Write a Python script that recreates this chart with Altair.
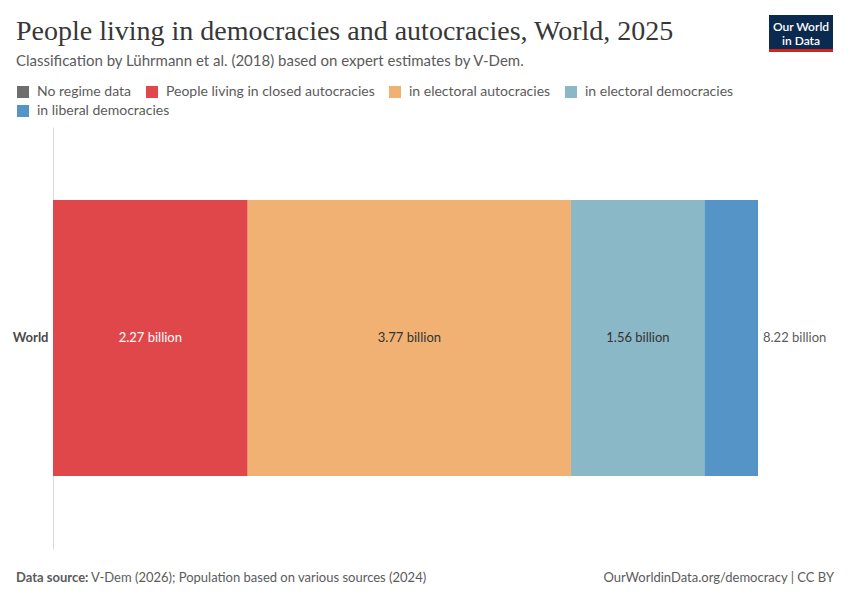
import altair as alt
import pandas as pd

# Population by political regime, World, 2025 (billions of people)
countries = ["World"]
regimes = [
    "No regime data",
    "People living in closed autocracies",
    "in electoral autocracies",
    "in electoral democracies",
    "in liberal democracies",
]
population_billions = [0.0, 2.27, 3.77, 1.56, 0.62]
regime_colors = ["#6e6e6e", "#e0474a", "#f0b173", "#8ab8c6", "#5594c7"]

df = pd.DataFrame({
    "country": countries * len(regimes),
    "regime": regimes,
    "value": population_billions,
    "order": list(range(len(regimes))),
})
total = round(sum(population_billions), 2)

TEXT = "#5b5b5b"
DARK = "#333333"

legend_style = dict(
    orient="none", direction="horizontal", title=None,
    symbolType="square", symbolSize=144, symbolStrokeWidth=0,
    labelFont="Lato", labelFontSize=14, labelColor=TEXT, labelLimit=400,
    labelOffset=7, columnPadding=13,
)

y_enc = alt.Y(
    "country:N",
    title=None,
    scale=alt.Scale(paddingInner=0, paddingOuter=0.2645),
    axis=alt.Axis(
        labelFont="Lato", labelFontSize=13, labelFontWeight="bold",
        labelColor="#4a4a4a", ticks=False, domainColor="#d9d9d9",
        labelPadding=5, grid=False,
    ),
)
x_scale = alt.Scale(domain=[0, total], nice=False, zero=True)

base = alt.Chart(df)
stacked = base.transform_stack(
    stack="value", as_=["x0", "x1"], groupby=["country"],
    sort=[alt.SortField("order")],
)

# All regime segments; the legend's first row lists the first four regimes
bars = stacked.mark_bar().encode(
    y=y_enc,
    x=alt.X("x0:Q", scale=x_scale, axis=None),
    x2="x1:Q",
    color=alt.Color(
        "regime:N",
        scale=alt.Scale(domain=regimes, range=regime_colors),
        legend=alt.Legend(values=regimes[:4], legendX=-37, legendY=-42, **legend_style),
    ),
)

# Last segment drawn again through its own fill scale, giving the legend's second row
last_bar = stacked.transform_filter(
    alt.datum.regime == regimes[-1]
).mark_bar().encode(
    y=y_enc,
    x=alt.X("x0:Q", scale=x_scale, axis=None),
    x2="x1:Q",
    fill=alt.Fill(
        "regime:N",
        scale=alt.Scale(domain=regimes[-1:], range=regime_colors[-1:]),
        legend=alt.Legend(legendX=-37, legendY=-23, **legend_style),
    ),
)

segment_labels = stacked.transform_filter("datum.value >= 1").transform_calculate(
    mid="(datum.x0 + datum.x1) / 2",
    label="format(datum.value, '.2f') + ' billion'",
).mark_text(font="Lato", fontSize=13).encode(
    y=y_enc,
    x=alt.X("mid:Q", scale=x_scale, axis=None),
    text="label:N",
    color=alt.condition(alt.datum.order == 1, alt.value("#ffffff"), alt.value(DARK)),
)

total_label = base.transform_aggregate(
    total="sum(value)", groupby=["country"]
).transform_calculate(
    label="format(datum.total, '.2f') + ' billion'"
).mark_text(font="Lato", fontSize=13, align="left", dx=5, color=TEXT).encode(
    y=y_enc,
    x=alt.X("total:Q", scale=x_scale, axis=None),
    text="label:N",
)

one = pd.DataFrame({"k": [0]})


def text(t, x, y, size, color=TEXT, font="Lato", weight="normal", align="left"):
    return alt.Chart(one).mark_text(
        text=t, font=font, fontSize=size, fontWeight=weight, color=color,
        align=align, baseline="alphabetic",
    ).encode(x=alt.value(x), y=alt.value(y))


# Plot origin sits at (53, 127) in page coordinates
title = text("People living in democracies and autocracies, World, 2025",
             -37, -87, 28, color="#373737", font="Liberation Serif")
subtitle = text("Classification by Lührmann et al. (2018) based on expert estimates by V-Dem.",
                -37, -61, 15)
source_bold = text("Data source:", -37, 455, 13, weight="bold")
source_rest = text("V-Dem (2026); Population based on various sources (2024)", 38, 455, 13)
url = text("OurWorldinData.org/democracy | CC BY", 781, 455, 13, align="right")

logo_box = alt.Chart(one).mark_rect(color="#0b2a4f").encode(
    x=alt.value(716), x2=alt.value(780), y=alt.value(-112), y2=alt.value(-75))
logo_strip = alt.Chart(one).mark_rect(color="#ce261e").encode(
    x=alt.value(716), x2=alt.value(780), y=alt.value(-78), y2=alt.value(-75))
logo_l1 = text("Our World", 748, -96, 12, color="#ffffff", weight=600, align="center")
logo_l2 = text("in Data", 748, -82.5, 12, color="#ffffff", weight=600, align="center")

chart = alt.layer(
    bars, last_bar, segment_labels, total_label,
    title, subtitle, source_bold, source_rest, url,
    logo_box, logo_strip, logo_l1, logo_l2,
).resolve_scale(
    color="independent", fill="independent"
).properties(
    width=705, height=422,
    padding={"left": 53, "top": 127, "right": 92, "bottom": 51},
    autosize=alt.AutoSizeParams(type="none"),
    background="#ffffff",
).configure_view(stroke=None)

chart.save("out.html", embed_options={"renderer": "svg", "actions": False})
